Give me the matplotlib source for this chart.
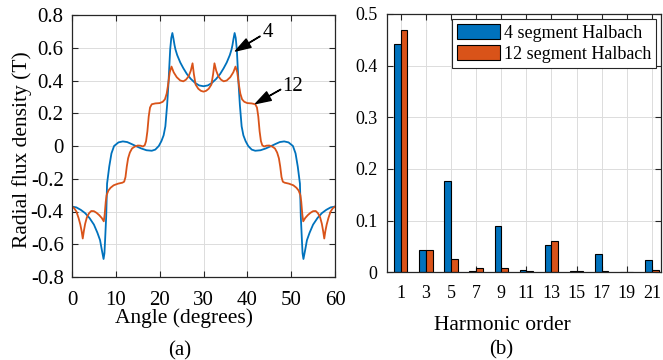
import matplotlib
matplotlib.use("Agg")
import matplotlib.pyplot as plt
import numpy as np

plt.rcParams["font.family"] = ["Liberation Serif", "DejaVu Serif"]
plt.rcParams["axes.unicode_minus"] = False

BLUE = "#0072BD"
ORANGE = "#D95319"
AXC = "#262626"
GRIDC = "#dcdcdc"

# ---- (a) radial flux density vs angle ----
angle_4 = [0.0, 1.0, 2.0, 3.0, 4.0, 5.0, 5.8, 6.4, 6.8, 7.2, 7.4, 7.55, 7.8, 8.0, 8.5, 9.0, 9.6,
           10.6, 11.6, 12.6, 13.6, 14.7, 15.8, 17.0, 18.2, 19.0, 19.8, 20.4, 20.9, 21.3, 21.7,
           22.0, 22.4, 22.65, 22.9, 23.15, 23.4, 23.6, 24.0, 24.7, 25.4, 26.2, 27.1, 28.1, 29.0,
           30.0,
           31.0, 31.9, 32.9, 33.8, 34.6, 35.3, 36.0, 36.4, 36.6, 36.85, 37.1, 37.35, 37.6, 38.0,
           38.3, 38.7, 39.1, 39.6, 40.2, 41.0, 41.8, 43.0, 44.2, 45.3, 46.4, 47.4, 48.4, 49.4,
           50.4, 51.0, 51.5, 52.0, 52.2, 52.45, 52.6, 52.8, 53.2, 53.6, 54.2, 55.0, 56.0, 57.0,
           58.0, 59.0, 60.0]
flux_4 = [-0.370, -0.375, -0.390, -0.410, -0.440, -0.480, -0.530, -0.575, -0.634, -0.690, -0.655,
          -0.575, -0.430, -0.230, -0.125, -0.045, 0.000,
          0.022, 0.028, 0.024, 0.012, -0.002, -0.015, -0.026, -0.029, -0.022, 0.000, 0.030, 0.065,
          0.120, 0.250, 0.380, 0.590, 0.660, 0.690, 0.655, 0.615, 0.590, 0.555, 0.510, 0.475,
          0.440, 0.410, 0.385, 0.370, 0.365,
          0.370, 0.385, 0.410, 0.440, 0.475, 0.510, 0.555, 0.590, 0.615, 0.655, 0.690, 0.660,
          0.590, 0.380, 0.250, 0.120, 0.065, 0.030, 0.000, -0.022, -0.029, -0.026, -0.015,
          -0.002, 0.012, 0.024, 0.028, 0.022,
          0.000, -0.045, -0.125, -0.230, -0.430, -0.575, -0.655, -0.690, -0.634, -0.575, -0.530,
          -0.480, -0.440, -0.410, -0.390, -0.375, -0.370]

angle_12 = [0.0, 0.5, 1.0, 1.5, 1.9, 2.2, 2.45, 2.7, 3.0, 3.4, 3.9, 4.4, 5.0, 5.6, 6.2, 6.8, 7.25,
            7.45, 7.7, 7.9, 8.3, 8.8, 9.5, 10.5, 11.5, 11.9, 12.2, 12.5, 12.8, 13.2, 13.7, 14.3,
            15.0, 15.6, 16.2, 16.6, 16.9, 17.2, 17.5, 17.8, 18.2, 19.0, 20.0, 20.7, 21.2, 21.6,
            21.9, 22.3, 22.7, 23.2, 23.9, 24.7, 25.4, 26.0, 26.6, 27.1, 27.5, 27.8, 28.2, 28.8,
            29.4, 30.0,
            30.6, 31.2, 31.8, 32.2, 32.5, 32.9, 33.4, 34.0, 34.6, 35.3, 36.1, 36.8, 37.3, 37.7,
            38.1, 38.4, 38.8, 39.3, 40.0, 41.0, 41.8, 42.2, 42.5, 42.8, 43.1, 43.4, 43.8, 44.4,
            45.0, 45.7, 46.3, 46.8, 47.2, 47.5, 47.8, 48.1, 48.5, 49.5, 50.5, 51.2, 51.7, 52.1,
            52.3, 52.55, 52.75, 53.2, 53.8, 54.4, 55.0, 55.6, 56.1, 56.6, 57.0, 57.3, 57.55,
            57.8, 58.1, 58.5, 59.0, 59.5, 60.0]
flux_12 = [-0.370, -0.380, -0.400, -0.440, -0.480, -0.520, -0.565, -0.520, -0.475, -0.435, -0.410,
           -0.397, -0.398, -0.408, -0.422, -0.440, -0.460, -0.420, -0.340, -0.300, -0.272, -0.255,
           -0.240, -0.230, -0.224, -0.218, -0.190, -0.125, -0.075, -0.040, -0.015, -0.004, 0.003,
           0.002, -0.003, 0.005, 0.030, 0.090, 0.180, 0.235, 0.255, 0.260, 0.262, 0.270, 0.285,
           0.320, 0.370, 0.450, 0.485, 0.450, 0.420, 0.400, 0.395, 0.405, 0.425, 0.460, 0.505,
           0.440, 0.375, 0.350, 0.337, 0.332,
           0.337, 0.350, 0.375, 0.440, 0.505, 0.460, 0.425, 0.405, 0.395, 0.400, 0.420, 0.450,
           0.485, 0.450, 0.370, 0.320, 0.285, 0.270, 0.262, 0.260, 0.255, 0.235, 0.180, 0.090,
           0.030, 0.005, -0.003, 0.002, 0.003, -0.004, -0.015, -0.040, -0.075, -0.125, -0.190,
           -0.218, -0.224, -0.230, -0.240, -0.255, -0.272, -0.300, -0.340, -0.420, -0.460, -0.440,
           -0.422, -0.408, -0.398, -0.397, -0.410, -0.435, -0.475, -0.520, -0.565, -0.520, -0.480,
           -0.440, -0.400, -0.380, -0.370]

# ---- (b) harmonic spectrum ----
orders = [1, 3, 5, 7, 9, 11, 13, 15, 17, 19, 21]
amp_4 = [0.442, 0.0425, 0.177, 0.002, 0.090, 0.004, 0.0535, 0.002, 0.035, 0.001, 0.024]
amp_12 = [0.469, 0.043, 0.026, 0.008, 0.0077, 0.002, 0.0605, 0.002, 0.002, 0.001, 0.004]
legend_labels = ["4 segment Halbach", "12 segment Halbach"]


def style(ax, fs):
    ax.grid(True, color=GRIDC, lw=0.7)
    ax.set_axisbelow(True)
    for s in ax.spines.values():
        s.set_color(AXC)
        s.set_linewidth(0.9)
    ax.tick_params(direction="in", top=True, right=True, length=4, width=0.8,
                   color=AXC, labelsize=fs, labelcolor="black")


fig = plt.figure(figsize=(6.63, 3.6), dpi=100)

ax1 = fig.add_axes([72 / 663, 83 / 360, 263 / 663, 262 / 360])
ax1.plot(angle_4, flux_4, color=BLUE, lw=1.3)
ax1.plot(angle_12, flux_12, color=ORANGE, lw=1.3)
ax1.set_xlim(0, 60)
ax1.set_ylim(-0.8, 0.8)
ax1.set_xticks(range(0, 61, 10))
ax1.set_yticks(np.round(np.arange(-0.8, 0.81, 0.2), 1))
ax1.set_yticklabels(["-0.8", "-0.6", "-0.4", "-0.2", "0", "0.2", "0.4", "0.6", "0.8"])
style(ax1, 15)
ax1.tick_params(axis="x", pad=10)
ax1.tick_params(axis="y", pad=6)
arrow = dict(facecolor="black", edgecolor="black", width=0.3, headwidth=7, headlength=11, shrink=0)
ax1.annotate("", xy=(37.3, 0.58), xytext=(42.9, 0.67), arrowprops=arrow)
ax1.text(43.6, 0.693, "4", fontsize=15, ha="left", va="center")
ax1.annotate("", xy=(41.9, 0.259), xytext=(47.6, 0.345), arrowprops=arrow)
ax1.text(47.9, 0.365, "12", fontsize=15, ha="left", va="center")
fig.text(22 / 663, 1 - 150 / 360, "Radial flux density (T)", rotation=90, fontsize=15.5,
         ha="center", va="center")
fig.text(184 / 663, 1 - 318 / 360, "Angle (degrees)", fontsize=15.5, ha="center", va="center")
fig.text(180 / 663, 1 - 351 / 360, "(a)", fontsize=15, ha="center", va="center")

ax2 = fig.add_axes([387.3 / 663, 87.7 / 360, 273.7 / 663, 258.3 / 360])
x = np.array(orders, dtype=float)
w = 0.53
ax2.bar(x - w / 2, amp_4, width=w, color=BLUE, edgecolor="black", lw=0.8, label=legend_labels[0])
ax2.bar(x + w / 2, amp_12, width=w, color=ORANGE, edgecolor="black", lw=0.8, label=legend_labels[1])
ax2.set_xlim(-0.07, 21.72)
ax2.set_ylim(0, 0.5)
ax2.set_xticks(orders)
ax2.set_yticks([0, 0.1, 0.2, 0.3, 0.4, 0.5])
ax2.set_yticklabels(["0", "0.1", "0.2", "0.3", "0.4", "0.5"])
style(ax2, 13)
ax2.tick_params(axis="x", pad=9)
ax2.tick_params(axis="y", pad=7)
leg = ax2.legend(loc="upper right", fontsize=13, fancybox=False, framealpha=1, edgecolor=AXC,
                 handlelength=2.4, handleheight=0.9, handletextpad=0.2, labelspacing=0.2,
                 borderpad=0.25, borderaxespad=0.3)
leg.get_frame().set_linewidth(0.8)
fig.text(502 / 663, 1 - 325 / 360, "Harmonic order", fontsize=15.5, ha="center", va="center")
fig.text(501 / 663, 1 - 350 / 360, "(b)", fontsize=15, ha="center", va="center")

fig.savefig("out.png", dpi=100)
